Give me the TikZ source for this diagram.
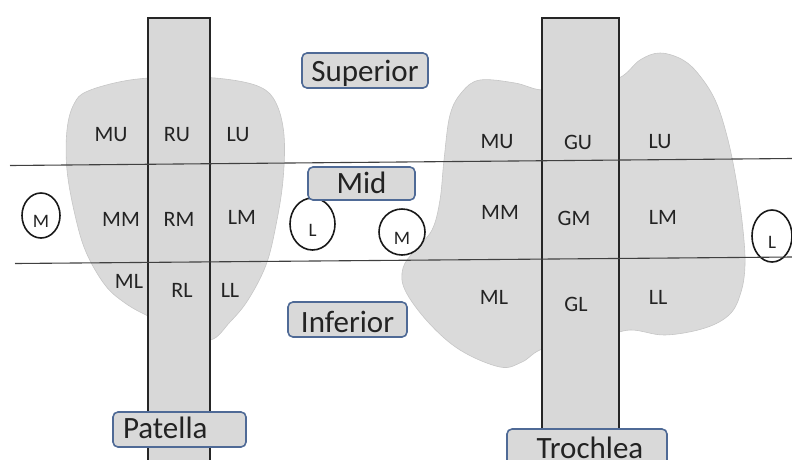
\documentclass[tikz,border=0pt]{standalone}
\usepackage{fontspec}
\setmainfont{Carlito}
\usetikzlibrary{shapes.geometric}
\definecolor{bonefill}{RGB}{218,218,218}
\definecolor{bandfill}{RGB}{216,216,216}
\definecolor{tagfill}{RGB}{217,217,217}
\definecolor{tagedge}{RGB}{79,106,150}
\definecolor{txt}{RGB}{35,35,35}
\begin{document}
\begin{tikzpicture}[x=1pt,y=-1pt,
  bone/.style={fill=bonefill, draw=gray!45, line width=0.6pt},
  band/.style={fill=bandfill, draw=black!85, line width=1.7pt},
  cut/.style={draw=black!75, line width=1.1pt},
  zone/.style={font=\fontsize{22}{22}\selectfont, text=txt, inner sep=0pt},
  side/.style={ellipse, draw=black!90, line width=1.6pt, fill=white,
    font=\fontsize{19}{19}\selectfont, text=txt, inner sep=0pt,
    text height=24pt, text depth=0pt},
  tag/.style={draw=tagedge, fill=tagfill, line width=1.6pt, rounded corners=5pt,
    font=\fontsize{31}{31}\selectfont, text=txt, inner sep=0pt,
    text height=22pt, text depth=0pt}]
\useasboundingbox (0,0) rectangle (792,459);
\clip (0,0) rectangle (792,459);

% patella outline
\draw[bone] plot[smooth cycle, tension=0.6] coordinates {
  (88,91) (130,80) (180,77) (225,79) (260,87) (276,103) (284,135) (283,180)
  (276,225) (266,265) (248,300) (230,322) (210,340) (180,330) (148,316)
  (125,303) (105,285) (86,252) (75,215) (67,170) (67,130) (74,104)};

% trochlea outline
\draw[bone] plot[smooth cycle, tension=0.6] coordinates {
  (480,80) (515,83) (542,90) (580,88) (619,78) (640,60) (660,53) (683,60)
  (700,76) (716,102) (728,140) (737,185) (743,230) (745,265) (741,292)
  (730,314) (705,328) (665,335) (630,330) (600,338) (545,348) (522,362)
  (500,367) (460,350) (428,322) (405,290) (403,268) (415,250) (432,230)
  (440,200) (444,160) (450,115) (462,92)};

% vertical bands
\draw[band] (148,18) rectangle (210,470);
\draw[band] (542,18) rectangle (619,470);

% side markers
\node[side, minimum width=38pt, minimum height=45pt] (pm) at (41,215.5) {M};
\node[side, minimum width=45pt, minimum height=52pt] (pl) at (312.5,224) {L};
\node[side, minimum width=46pt, minimum height=46pt] (tm) at (402,232) {M};
\node[side, minimum width=40pt, minimum height=52pt] (tl) at (772,236) {L};

% horizontal cut lines
\coordinate (u1) at (10,165.5);
\coordinate (u2) at (792,158.5);
\coordinate (l1) at (15,263.5);
\coordinate (l2) at (792,257);
\draw[cut] (u1) -- (u2);
\draw[cut] (l1) -- (l2);

% patella zones
\node[zone] (pmu) at (111,135) {MU};
\node[zone] (pru) at (177,135) {RU};
\node[zone] (plu) at (238,135) {LU};
\node[zone] (pmm) at (121,219) {MM};
\node[zone] (prm) at (179,219) {RM};
\node[zone] (plm) at (242,217) {LM};
\node[zone] (pml) at (129,281) {ML};
\node[zone] (prl) at (182,290) {RL};
\node[zone] (pll) at (230,290) {LL};

% trochlea zones
\node[zone] (tmu) at (497,142) {MU};
\node[zone] (tgu) at (578,142) {GU};
\node[zone] (tlu) at (660,142) {LU};
\node[zone] (tmm) at (500,212) {MM};
\node[zone] (tgm) at (574,218) {GM};
\node[zone] (tlm) at (663,217) {LM};
\node[zone] (tml) at (494,297) {ML};
\node[zone] (tgl) at (576,304) {GL};
\node[zone] (tll) at (658,297) {LL};

% region tags
\node[tag, minimum width=126pt, minimum height=35pt] (sup) at (365,70.5) {Superior};
\node[tag, minimum width=107pt, minimum height=33pt, text height=19pt] (mid) at (361.5,183.5) {Mid};
\node[tag, minimum width=119pt, minimum height=35pt, text height=26pt] (inf) at (347.5,319.5) {Inferior};
\node[tag, minimum width=133pt, minimum height=35pt, text height=18pt,
  text width=113pt, align=left] (pat) at (179.5,429.5) {Patella};
\node[tag, minimum width=160pt, minimum height=36pt] (tro) at (587,447) {\hspace{6pt}Trochlea};
\end{tikzpicture}
\end{document}
